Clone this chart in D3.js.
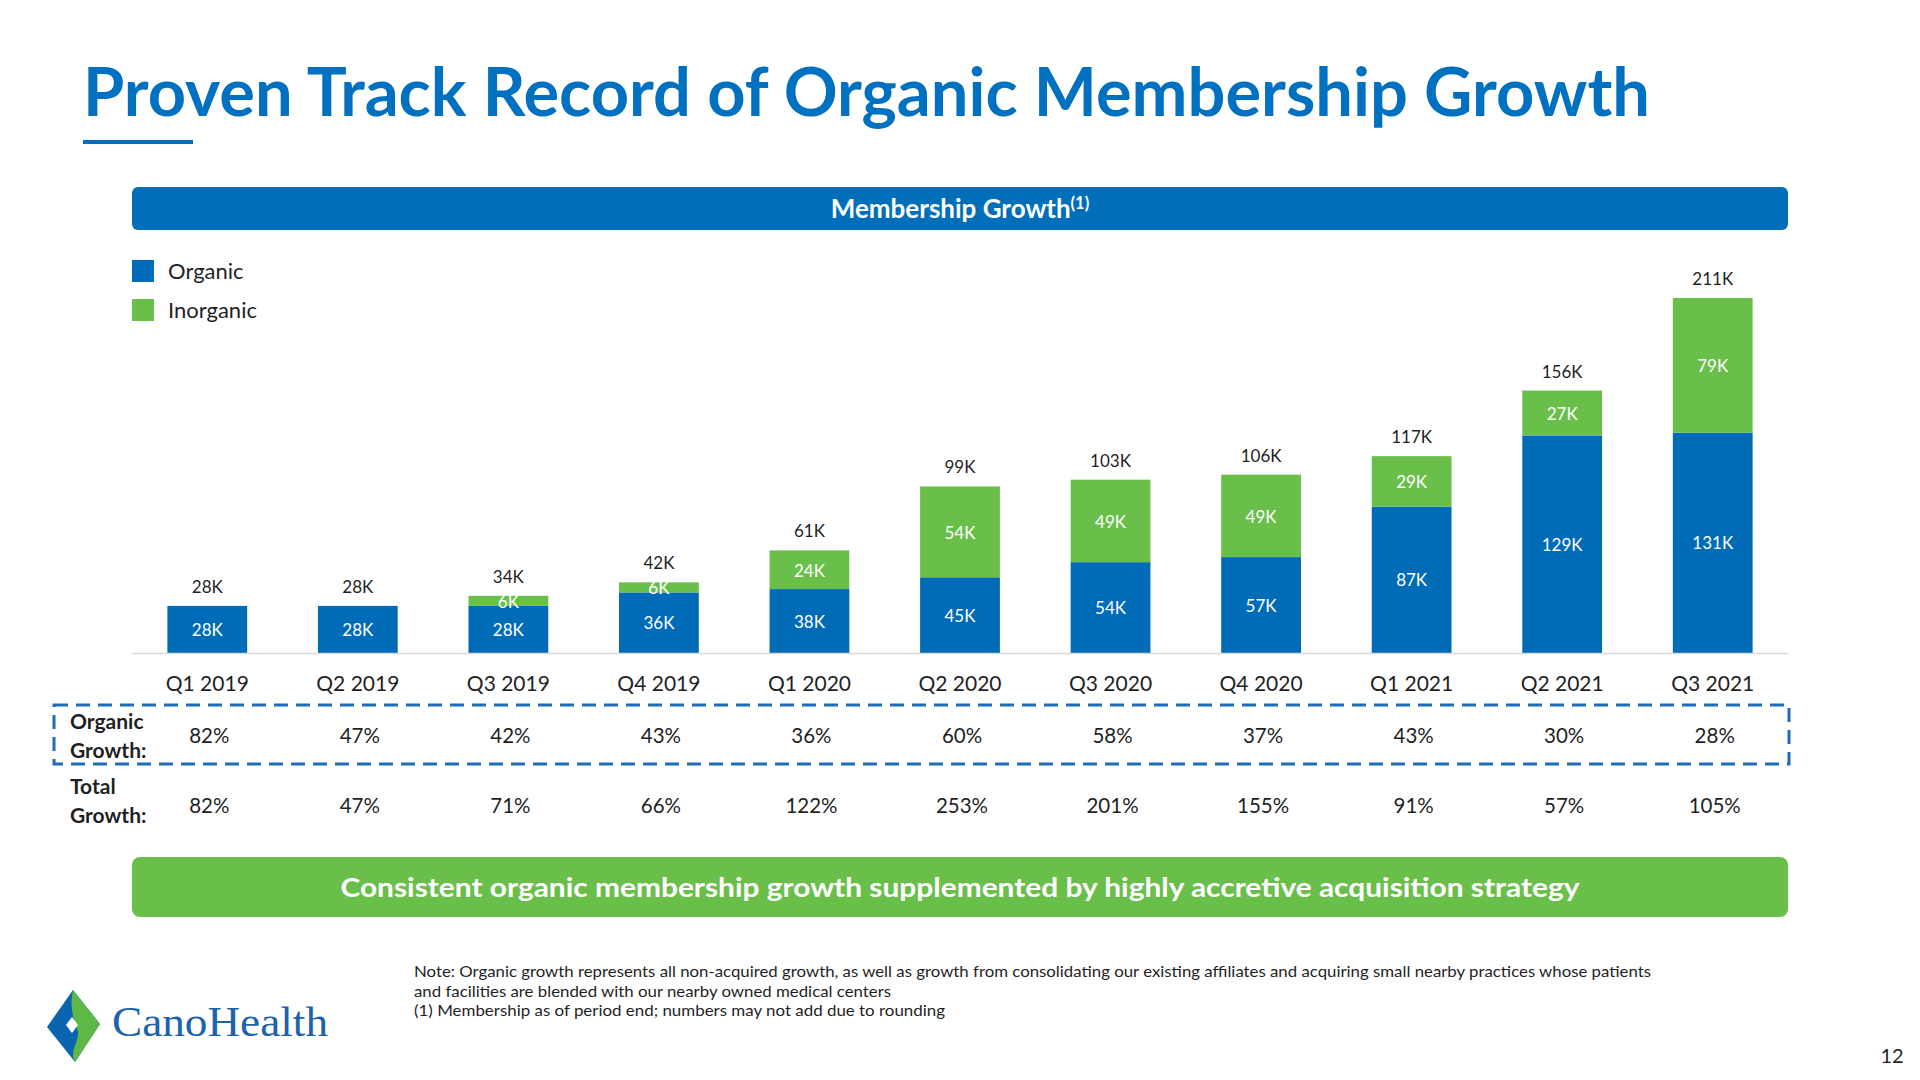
<!DOCTYPE html>
<html>
<head>
<meta charset="utf-8">
<script src="https://cdn.jsdelivr.net/npm/d3@7"></script>
<style>
  html, body { margin: 0; padding: 0; background: #ffffff; }
  svg { display: block; font-family: Lato, "Open Sans", sans-serif; }
</style>
</head>
<body>
<svg id="chart" width="1920" height="1080"></svg>
<script>
// ---------- data ----------
const categories = ["Q1 2019","Q2 2019","Q3 2019","Q4 2019","Q1 2020","Q2 2020","Q3 2020","Q4 2020","Q1 2021","Q2 2021","Q3 2021"];
const organic   = [28, 28, 28, 36, 38, 45, 54, 57, 87, 129, 131];
const inorganic = [0, 0, 6, 6, 24, 54, 49, 49, 29, 27, 79];
const totals    = [28, 28, 34, 42, 61, 99, 103, 106, 117, 156, 211];
const organicGrowth = ["82%","47%","42%","43%","36%","60%","58%","37%","43%","30%","28%"];
const totalGrowth   = ["82%","47%","71%","66%","122%","253%","201%","155%","91%","57%","105%"];
const seriesNames = ["Organic","Inorganic"];
const titleText = "Proven Track Record of Organic Membership Growth";
const headerText = "Membership Growth";
const bannerText = "Consistent organic membership growth supplemented by highly accretive acquisition strategy";
const noteLines = [
  "Note: Organic growth represents all non-acquired growth, as well as growth from consolidating our existing affiliates and acquiring small nearby practices whose patients",
  "and facilities are blended with our nearby owned medical centers",
  "(1) Membership as of period end; numbers may not add due to rounding"
];

// ---------- styles ----------
const BLUE = "#006BB6", GREEN = "#6ABF4B", TITLE_BLUE = "#0070C0", TEXT = "#1f1f1f";
const SANS = "Lato, 'Open Sans', sans-serif";

const svg = d3.select("#chart");

function fitLen(sel, w) {
  const n = sel.node();
  const cur = n.getComputedTextLength();
  if (Math.abs(cur - w) > 1) sel.attr("textLength", w).attr("lengthAdjust", "spacingAndGlyphs");
}

// ---------- title ----------
const title = svg.append("text").attr("x", 83).attr("y", 116)
  .attr("font-size", 67).attr("font-weight", 700).attr("fill", TITLE_BLUE)
  .text(titleText);
fitLen(title, 1567);
svg.append("rect").attr("x", 83).attr("y", 140).attr("width", 110).attr("height", 4).attr("fill", TITLE_BLUE);

// ---------- header bar ----------
svg.append("rect").attr("x", 132).attr("y", 187).attr("width", 1656).attr("height", 43)
  .attr("rx", 6).attr("fill", "#006EB8");
const ht = svg.append("text").attr("x", 960).attr("y", 218).attr("text-anchor", "middle")
  .attr("fill", "#fff").attr("font-weight", 700).attr("font-size", 26);
ht.append("tspan").text(headerText);
ht.append("tspan").attr("font-size", 16.5).attr("dy", -9).text("(1)");

// ---------- legend ----------
const legColors = [BLUE, GREEN];
seriesNames.forEach((s, i) => {
  const cy = 271 + i * 39;
  svg.append("rect").attr("x", 132).attr("y", cy - 11).attr("width", 22).attr("height", 22).attr("fill", legColors[i]);
  svg.append("text").attr("x", 168).attr("y", cy + 7.5).attr("font-size", 22).attr("fill", TEXT).text(s);
});

// ---------- scales ----------
const x = d3.scaleBand().domain(categories).range([132, 1788]).paddingInner(0.47).paddingOuter(0.235);
const y = d3.scaleLinear().domain([0, 211]).range([653, 298]);

const rows = categories.map((c, i) => ({ c, o: organic[i], n: inorganic[i], t: totals[i] }));

const g = svg.append("g");
// organic
g.selectAll(".org").data(rows).join("rect")
  .attr("x", d => x(d.c)).attr("width", x.bandwidth())
  .attr("y", d => y(d.o)).attr("height", d => y(0) - y(d.o)).attr("fill", BLUE);
// inorganic
g.selectAll(".inorg").data(rows.filter(d => d.n > 0)).join("rect")
  .attr("x", d => x(d.c)).attr("width", x.bandwidth())
  .attr("y", d => y(d.t)).attr("height", d => y(d.o) - y(d.t)).attr("fill", GREEN);

// axis line
const xAxis = d3.axisBottom(x).tickSize(0).tickPadding(0);
const ax = svg.append("g").attr("transform", `translate(0,653)`).call(xAxis);
ax.attr("font-family", SANS);
ax.select(".domain").attr("stroke", "#D9D9D9").attr("stroke-width", 1.5);
ax.selectAll(".tick text").attr("font-size", 21).attr("fill", TEXT)
  .attr("dy", null).attr("y", 38);

// segment labels
g.selectAll(".ol").data(rows).join("text")
  .attr("x", d => x(d.c) + x.bandwidth() / 2).attr("y", d => (y(0) + y(d.o)) / 2 + 6.5)
  .attr("text-anchor", "middle").attr("font-size", 17).attr("fill", "#fff")
  .text(d => d.o + "K");
g.selectAll(".il").data(rows.filter(d => d.n > 0)).join("text")
  .attr("x", d => x(d.c) + x.bandwidth() / 2).attr("y", d => (y(d.o) + y(d.t)) / 2 + 7)
  .attr("text-anchor", "middle").attr("font-size", 17).attr("fill", "#fff")
  .text(d => d.n + "K");
// totals
g.selectAll(".tl").data(rows).join("text")
  .attr("x", d => x(d.c) + x.bandwidth() / 2).attr("y", d => y(d.t) - 13)
  .attr("text-anchor", "middle").attr("font-size", 17).attr("fill", TEXT)
  .text(d => d.t + "K");

// ---------- growth table ----------
svg.append("rect").attr("x", 54).attr("y", 705).attr("width", 1735).attr("height", 59)
  .attr("fill", "none").attr("stroke", "#1F6DB5").attr("stroke-width", 3).attr("stroke-dasharray", "14 8");

function rowLabel(lines, baselines) {
  lines.forEach((l, i) => svg.append("text").attr("x", 70).attr("y", baselines[i])
    .attr("font-size", 21).attr("font-weight", 700).attr("fill", TEXT).text(l));
}
rowLabel(["Organic", "Growth:"], [729, 758]);
rowLabel(["Total", "Growth:"], [794, 823]);

svg.selectAll(".og").data(categories).join("text")
  .attr("x", (c) => x(c) + x.bandwidth() / 2 + 2).attr("y", 743)
  .attr("text-anchor", "middle").attr("font-size", 20.5).attr("fill", TEXT)
  .text((c, i) => organicGrowth[i]);
svg.selectAll(".tg").data(categories).join("text")
  .attr("x", (c) => x(c) + x.bandwidth() / 2 + 2).attr("y", 813)
  .attr("text-anchor", "middle").attr("font-size", 20.5).attr("fill", TEXT)
  .text((c, i) => totalGrowth[i]);

// ---------- banner ----------
svg.append("rect").attr("x", 132).attr("y", 857).attr("width", 1656).attr("height", 60)
  .attr("rx", 8).attr("fill", GREEN);
const bt = svg.append("text").attr("x", 960).attr("y", 897).attr("text-anchor", "middle")
  .attr("font-size", 27).attr("font-weight", 700).attr("fill", "#fff").text(bannerText);
fitLen(bt, 1239);

// ---------- note ----------
const noteW = [1237, 477, 531];
noteLines.forEach((l, i) => {
  const t = svg.append("text").attr("x", 414).attr("y", 977 + i * 19.5)
    .attr("font-size", 16).attr("fill", TEXT).text(l);
  fitLen(t, noteW[i]);
});

// ---------- logo ----------
const logo = svg.append("g");
logo.append("path").attr("d", "M73,990 L100,1024 L75,1062 L47,1027 Z").attr("fill", "#0A64AE");
logo.append("path").attr("d", "M73,990 L100,1024 L75,1062 C68,1050 82,1040 77,1028 C72,1016 70,1005 73,990 Z").attr("fill", "#5DB848");
logo.append("path").attr("d", "M72,1017 L78,1025 L72,1033 L66,1025 Z").attr("fill", "#fff");
const lt = svg.append("text").attr("x", 112).attr("y", 1036)
  .style("font-family", "'Liberation Serif', 'DejaVu Serif', serif")
  .attr("font-size", 42).attr("fill", "#1C63AD").text("CanoHealth");
fitLen(lt, 216);

// page number
svg.append("text").attr("x", 1892).attr("y", 1063).attr("text-anchor", "middle")
  .attr("font-size", 20).attr("fill", TEXT).text("12");
</script>
</body>
</html>
